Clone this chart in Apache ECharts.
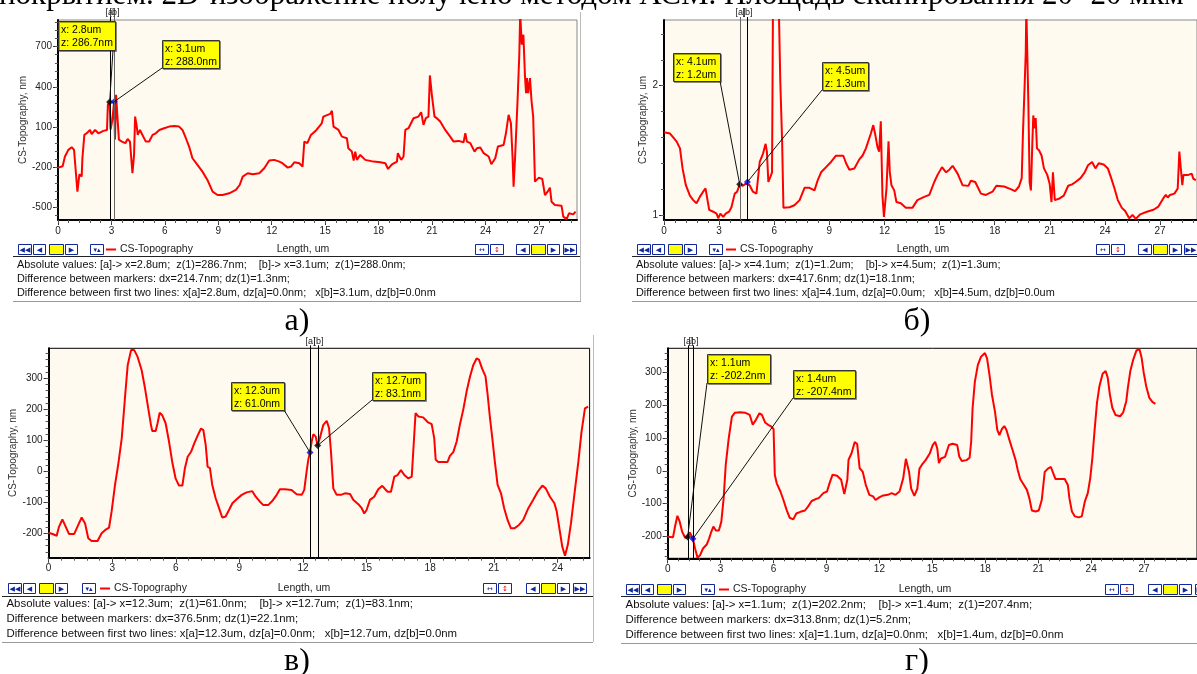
<!DOCTYPE html>
<html>
<head>
<meta charset="utf-8">
<script src="https://cdn.jsdelivr.net/npm/echarts@6/dist/echarts.min.js"></script>
<style>
  html, body { margin: 0; padding: 0; background: #fff; }
  #chart { width: 1197px; height: 674px; }
</style>
</head>
<body>
<div id="chart"></div>
<script>
// ---- profile a) : length (um) / height (nm)
const lenA = [0, 0.26, 0.39, 0.58, 0.77, 0.90, 0.97, 1.09, 1.20, 1.33, 1.37, 1.48, 1.61, 1.80, 1.89, 2.08, 2.27, 2.55, 2.75, 2.80, 2.90, 2.95, 3.05, 3.15, 3.20, 3.26, 3.33, 3.42, 3.59, 3.78, 3.91, 4.04, 4.18, 4.27, 4.33, 4.41, 4.48, 4.60, 4.71, 4.93, 5.12, 5.31, 5.49, 5.69, 5.96, 6.24, 6.52, 6.80, 6.99, 7.18, 7.36, 7.55, 7.83, 8.11, 8.39, 8.68, 8.96, 9.24, 9.61, 9.99, 10.2, 10.37, 10.65, 10.93, 11.3, 11.58, 11.86, 12.14, 12.43, 12.6, 12.9, 13.08, 13.27, 13.55, 13.73, 13.83, 14.0, 14.2, 14.5, 14.81, 14.9, 15.28, 15.38, 15.47, 15.75, 15.94, 16.22, 16.3, 16.5, 16.6, 16.69, 16.78, 16.97, 17.25, 17.72, 18.1, 18.38, 18.53, 18.75, 19.03, 19.08, 19.27, 19.4, 19.5, 19.68, 19.96, 20.24, 20.39, 20.52, 20.65, 20.8, 20.88, 20.99, 21.14, 21.27, 21.46, 21.74, 22.02, 22.21, 22.49, 22.77, 22.87, 22.96, 23.15, 23.39, 23.52, 23.71, 23.9, 24.18, 24.33, 24.55, 24.7, 25.02, 25.15, 25.3, 25.43, 25.52, 25.58, 25.67, 25.8, 25.9, 25.95, 26.04, 26.13, 26.22, 26.28, 26.33, 26.4, 26.5, 26.59, 26.68, 26.78, 27.0, 27.19, 27.34, 27.49, 27.62, 27.71, 27.9, 28.27, 28.37, 28.56, 28.69, 28.93, 29.06];
const topoA = [-205, -195, -122, -72, -52, -72, -185, -385, -255, -272, -135, 40, 52, 77, 45, 77, 52, 70, 77, 265, 286.7, 80, 150, 288.0, 5, 340, 190, 5, -10, -22, 10, -10, -247, -110, 177, 115, 40, 77, 65, -10, -10, 40, 52, 77, 90, 102, 107, 102, 77, 15, -47, -135, -185, -235, -297, -385, -410, -410, -397, -372, -335, -272, -247, -255, -247, -210, -152, -147, -160, -172, -205, -197, -165, -172, -197, -10, -22, 40, 75, 127, 177, 197, 220, 102, 77, 27, 15, -60, -85, -152, -85, -147, -110, -147, -160, -165, -172, -215, -180, -160, -97, -147, -122, 77, 90, 165, 177, 210, 115, 165, 177, 485, 340, 177, 165, 140, 77, 27, -10, -5, -15, 52, -10, -22, -85, -60, -55, -97, -122, -180, -135, -47, -35, 52, 190, 127, -122, -347, -110, 290, 640, 950, 715, 790, 477, 352, 465, 352, 465, 290, 177, -310, -280, -290, -410, -385, -355, -460, -485, -490, -572, -590, -547, -555, -535];
const markLenA = [2.90, 3.15];
const markTopoA = [286.7, 288.0];

// ---- profile б) : length (um) / height (um)
const lenB = [0, 0.33, 0.69, 0.87, 1.01, 1.19, 1.41, 1.59, 1.77, 1.95, 2.13, 2.26, 2.35, 2.46, 2.68, 2.86, 2.95, 3.07, 3.22, 3.36, 3.54, 3.67, 3.85, 3.98, 4.12, 4.3, 4.45, 4.54, 4.66, 4.84, 5.03, 5.21, 5.39, 5.53, 5.6, 5.68, 5.79, 5.88, 5.93, 6.25, 6.33, 6.43, 6.5, 6.83, 7.1, 7.38, 7.65, 7.92, 8.19, 8.37, 8.55, 8.82, 9.09, 9.36, 9.76, 9.91, 10.09, 10.36, 10.63, 10.81, 10.99, 11.14, 11.26, 11.39, 11.5, 11.62, 11.71, 11.8, 11.86, 11.89, 11.97, 12.04, 12.11, 12.22, 12.29, 12.38, 12.53, 12.65, 12.89, 13.16, 13.52, 13.79, 14.16, 14.44, 14.71, 14.89, 15.13, 15.35, 15.53, 15.71, 15.98, 16.25, 16.57, 16.7, 16.94, 17.25, 17.52, 17.88, 18.09, 18.51, 18.87, 19.11, 19.32, 19.47, 19.54, 19.63, 19.69, 19.72, 19.79, 19.83, 19.9, 19.97, 20.05, 20.1, 20.17, 20.23, 20.3, 20.41, 20.55, 20.68, 20.86, 20.99, 21.09, 21.17, 21.22, 21.27, 21.49, 21.76, 22.0, 22.21, 22.4, 22.67, 22.9, 23.08, 23.3, 23.48, 23.66, 23.93, 24.16, 24.34, 24.52, 24.7, 24.92, 25.1, 25.32, 25.5, 25.68, 25.92, 26.28, 26.64, 26.91, 27.18, 27.31, 27.42, 27.54, 27.78, 27.96, 28.05, 28.14, 28.21, 28.27, 28.36, 28.54, 28.72, 28.81, 28.95];
const topoB = [1.64, 1.63, 1.567, 1.515, 1.36, 1.23, 1.15, 1.115, 1.09, 1.14, 1.18, 1.205, 1.13, 1.04, 1.025, 1.01, 0.975, 1.01, 0.985, 1.01, 1.025, 1.06, 1.165, 1.18, 1.237, 1.226, 1.242, 1.255, 1.23, 1.18, 1.165, 1.41, 1.475, 1.55, 1.49, 1.255, 1.295, 1.33, 2.6, 2.6, 2.03, 1.567, 1.055, 1.06, 1.075, 1.115, 1.21, 1.21, 1.19, 1.27, 1.33, 1.37, 1.41, 1.458, 1.458, 1.4, 1.35, 1.36, 1.43, 1.46, 1.515, 1.58, 1.63, 1.695, 1.62, 1.525, 1.49, 1.725, 1.72, 1.15, 0.985, 1.0, 1.205, 1.57, 1.33, 1.23, 1.19, 1.1, 1.09, 1.055, 1.055, 1.115, 1.14, 1.155, 1.255, 1.31, 1.37, 1.33, 1.35, 1.38, 1.32, 1.23, 1.225, 1.265, 1.255, 1.165, 1.155, 1.18, 1.226, 1.22, 1.2, 1.185, 1.22, 1.285, 1.645, 2.005, 2.26, 2.6, 2.6, 1.875, 1.255, 1.19, 1.567, 1.77, 1.67, 1.75, 1.515, 1.5, 1.46, 1.36, 1.31, 1.242, 1.1, 1.33, 1.33, 1.115, 1.125, 1.15, 1.226, 1.237, 1.255, 1.285, 1.33, 1.385, 1.41, 1.36, 1.4, 1.39, 1.36, 1.285, 1.205, 1.115, 1.055, 1.03, 0.975, 1.0, 0.97, 1.005, 1.025, 1.04, 1.065, 1.13, 1.155, 1.135, 1.155, 1.165, 1.205, 1.49, 1.475, 1.23, 1.31, 1.295, 1.31, 1.32, 1.28, 1.27];
const markLenB = [4.12, 4.54];
const markTopoB = [1.237, 1.255];

// ---- profile в) : length (um) / height (nm)
const lenC = [0, 0.22, 0.38, 0.49, 0.65, 0.81, 0.96, 1.21, 1.4, 1.56, 1.72, 1.87, 2.03, 2.31, 2.5, 2.66, 2.85, 2.97, 3.13, 3.29, 3.45, 3.6, 3.73, 3.89, 4.04, 4.2, 4.39, 4.55, 4.7, 4.83, 4.89, 5.05, 5.14, 5.24, 5.36, 5.52, 5.68, 5.83, 5.99, 6.15, 6.31, 6.43, 6.56, 6.72, 6.87, 7.03, 7.19, 7.3, 7.41, 7.5, 7.61, 7.72, 7.88, 8.04, 8.19, 8.35, 8.51, 8.67, 8.87, 9.11, 9.34, 9.61, 9.77, 9.97, 10.13, 10.36, 10.55, 10.76, 10.91, 11.15, 11.46, 11.7, 11.94, 12.06, 12.17, 12.25, 12.33, 12.41, 12.49, 12.6, 12.69, 12.8, 12.96, 13.12, 13.23, 13.32, 13.43, 13.59, 13.79, 13.98, 14.22, 14.37, 14.61, 14.77, 14.89, 15.0, 15.16, 15.36, 15.55, 15.74, 15.87, 15.99, 16.15, 16.31, 16.46, 16.62, 16.78, 16.97, 17.13, 17.22, 17.31, 17.44, 17.67, 17.88, 18.07, 18.19, 18.26, 18.38, 18.62, 18.82, 18.93, 19.09, 19.25, 19.4, 19.56, 19.72, 19.88, 20.03, 20.19, 20.3, 20.45, 20.61, 20.71, 20.82, 20.93, 21.05, 21.18, 21.34, 21.49, 21.65, 21.81, 21.97, 22.19, 22.39, 22.63, 22.86, 23.07, 23.29, 23.45, 23.65, 23.86, 23.97, 24.12, 24.23, 24.36, 24.49, 24.64, 24.8, 24.99, 25.14, 25.3, 25.45];
const topoC = [-198, -203, -208, -179, -155, -179, -202, -202, -173, -149, -168, -216, -225, -225, -200, -190, -182, -131, -45, 25, 106, 235, 342, 391, 391, 369, 326, 267, 203, 149, 130, 130, 155, 189, 181, 155, 96, 31, -23, -46, -46, 10, 47, 63, 90, 115, 138, 133, 85, 15, 10, -44, -87, -119, -149, -146, -125, -103, -90, -76, -68, -64, -82, -98, -109, -109, -96, -76, -58, -58, -60, -74, -76, -60, -1, 37, 61.0, 96, 120, 112, 83.1, 108, 150, 163, 139, 64, -55, -76, -76, -71, -73, -92, -106, -119, -136, -125, -92, -82, -58, -47, -57, -66, -66, -17, -12, 4, -12, -23, -17, 85, 188, 177, 174, 159, 152, 107, 37, 30, 30, 30, 50, 62, 96, 150, 199, 258, 306, 342, 364, 360, 331, 306, 247, 172, 107, 31, -44, -71, -119, -157, -184, -184, -173, -157, -119, -92, -66, -46, -55, -82, -103, -130, -195, -243, -272, -238, -168, -76, 31, 128, 203, 209];
const markLenC = [12.33, 12.69];
const markTopoC = [61.0, 83.1];

// ---- profile г) : length (um) / height (nm)
const lenD = [0, 0.3, 0.43, 0.55, 0.68, 0.82, 0.99, 1.13, 1.25, 1.34, 1.43, 1.55, 1.69, 1.83, 2.0, 2.21, 2.35, 2.47, 2.59, 2.73, 2.9, 3.04, 3.17, 3.29, 3.46, 3.64, 3.81, 4.12, 4.38, 4.65, 4.82, 5.0, 5.2, 5.34, 5.52, 5.69, 5.86, 6.0, 6.07, 6.18, 6.39, 6.56, 6.74, 6.91, 7.12, 7.29, 7.52, 7.78, 7.95, 8.16, 8.39, 8.56, 8.82, 9.03, 9.17, 9.34, 9.6, 9.83, 10.01, 10.18, 10.25, 10.42, 10.6, 10.74, 10.88, 11.05, 11.23, 11.43, 11.64, 11.78, 11.99, 12.22, 12.48, 12.69, 12.91, 13.14, 13.35, 13.5, 13.68, 13.8, 13.98, 14.15, 14.27, 14.41, 14.62, 14.85, 15.02, 15.16, 15.28, 15.37, 15.49, 15.72, 15.94, 16.15, 16.41, 16.53, 16.67, 16.94, 17.11, 17.2, 17.28, 17.41, 17.58, 17.76, 17.98, 18.1, 18.24, 18.38, 18.55, 18.68, 18.8, 18.94, 19.08, 19.2, 19.37, 19.55, 19.72, 19.84, 19.98, 20.19, 20.36, 20.5, 20.64, 20.85, 21.03, 21.2, 21.37, 21.55, 21.72, 21.86, 21.98, 22.24, 22.5, 22.68, 22.77, 22.91, 23.08, 23.29, 23.47, 23.64, 23.81, 23.95, 24.07, 24.19, 24.33, 24.47, 24.65, 24.82, 24.94, 25.06, 25.2, 25.38, 25.64, 25.81, 25.99, 26.08, 26.22, 26.39, 26.57, 26.74, 26.86, 26.98, 27.12, 27.3, 27.47, 27.64];
const topoD = [-201, -203, -166, -137, -155, -186, -204, -202.2, -188, -191, -207.4, -237, -265, -258, -237, -225, -206, -186, -170, -182, -182, -155, -84, 19, 100, 166, 178, 179, 178, 171, 141, 156, 176, 171, 148, 141, 136, 128, -12, -38, -63, -89, -119, -143, -148, -130, -125, -121, -109, -92, -86, -83, -68, -63, -38, -12, -15, -27, -71, -27, 34, 54, 88, 82, 8, -2, -43, -73, -78, -89, -81, -75, -73, -68, -73, -63, -22, 37, -3, -54, -76, -54, 7, 19, 33, 53, 79, 89, 68, 24, 38, 43, 79, 83, 79, 43, 30, 33, 40, 89, 191, 273, 324, 349, 360, 344, 293, 232, 181, 125, 109, 128, 137, 125, 94, 63, 33, 3, -25, -43, -58, -84, -121, -124, -121, -89, -3, 7, 12, -8, -25, -25, -25, -43, -84, -124, -139, -142, -139, -94, -68, -22, 40, 121, 208, 259, 297, 305, 285, 234, 193, 171, 167, 178, 213, 254, 305, 341, 368, 372, 346, 300, 259, 223, 211, 205];
const markLenD = [1.13, 1.43];
const markTopoD = [-202.2, -207.4];

// ---- tick labels
const lengthTicks = [0, 3, 6, 9, 12, 15, 18, 21, 24, 27];
const topoTicksA = [-500, -200, 100, 400, 700];
const topoTicksB = [1, 2];
const topoTicksC = [-200, -100, 0, 100, 200, 300];
const topoTicksD = [-200, -100, 0, 100, 200, 300];

// ---- texts
const infoA = [
  'Absolute values: [a]-> x=2.8um;  z(1)=286.7nm;    [b]-> x=3.1um;  z(1)=288.0nm;',
  'Difference between markers: dx=214.7nm; dz(1)=1.3nm;',
  'Difference between first two lines: x[a]=2.8um, dz[a]=0.0nm;   x[b]=3.1um, dz[b]=0.0nm'
];
const infoB = [
  'Absolute values: [a]-> x=4.1um;  z(1)=1.2um;    [b]-> x=4.5um;  z(1)=1.3um;',
  'Difference between markers: dx=417.6nm; dz(1)=18.1nm;',
  'Difference between first two lines: x[a]=4.1um, dz[a]=0.0um;   x[b]=4.5um, dz[b]=0.0um'
];
const infoC = [
  'Absolute values: [a]-> x=12.3um;  z(1)=61.0nm;    [b]-> x=12.7um;  z(1)=83.1nm;',
  'Difference between markers: dx=376.5nm; dz(1)=22.1nm;',
  'Difference between first two lines: x[a]=12.3um, dz[a]=0.0nm;   x[b]=12.7um, dz[b]=0.0nm'
];
const infoD = [
  'Absolute values: [a]-> x=1.1um;  z(1)=202.2nm;    [b]-> x=1.4um;  z(1)=207.4nm;',
  'Difference between markers: dx=313.8nm; dz(1)=5.2nm;',
  'Difference between first two lines: x[a]=1.1um, dz[a]=0.0nm;   x[b]=1.4um, dz[b]=0.0nm'
];
const boxTextA = [['x: 2.8um', 'z: 286.7nm'], ['x: 3.1um', 'z: 288.0nm']];
const boxTextB = [['x: 4.1um', 'z: 1.2um'], ['x: 4.5um', 'z: 1.3um']];
const boxTextC = [['x: 12.3um', 'z: 61.0nm'], ['x: 12.7um', 'z: 83.1nm']];
const boxTextD = [['x: 1.1um', 'z: -202.2nm'], ['x: 1.4um', 'z: -207.4nm']];
const headText = 'покрытием. 2D-изображение получено методом АСМ. Площадь сканирования 20×20 мкм';

const UI = '"Liberation Sans", Arial, sans-serif';
const SERIF = '"Liberation Serif", "Times New Roman", serif';
const BLUE = '#10289a';

// layout of the four panels
const panels = [
  { len: lenA, topo: topoA, mLen: markLenA, mTopo: markTopoA, yTicks: topoTicksA, info: infoA, boxText: boxTextA,
    grid: { left: 58, top: 20, width: 519, height: 200 }, xMax: 29.14, yMin: -597, yMax: 900,
    yName: 'CS-Topography, nm', nameGap: 24, frame: '#888',
    row: { y: 244, nav: 18, icon: 90, leg: 106, lenX: 303, pair: 474.6, navR: 516 },
    sep: { x1: 13, x2: 581, y: 256 }, infoX: 17, infoY: [265, 279, 293], infoSize: 10.9,
    bottom: { x1: 13, x2: 581, y: 301 }, vline: { x: 580, y1: 12, y2: 301 },
    boxes: [{ x: 58, y: 21, w: 57, h: 29, ax: 113, ay: 50 }, { x: 162, y: 40, w: 57, h: 28, ax: 162, ay: 68 }],
    mkColor: ['#000', '#0000ff'], mlColor: ['#000', '#666'], caption: { t: 'а)', x: 297, y: 322 } },
  { len: lenB, topo: topoB, mLen: markLenB, mTopo: markTopoB, yTicks: topoTicksB, info: infoB, boxText: boxTextB,
    grid: { left: 664, top: 20, width: 535, height: 200 }, xMax: 29.01, yMin: 0.961, yMax: 2.508,
    yName: 'CS-Topography, um', nameGap: 11, frame: '#888',
    row: { y: 244, nav: 637, icon: 709, leg: 726, lenX: 923, pair: 1096, navR: 1137.7 },
    sep: { x1: 632, x2: 1197, y: 256 }, infoX: 636, infoY: [265, 279, 293], infoSize: 10.9,
    bottom: { x1: 632, x2: 1197, y: 301 }, vline: null,
    boxes: [{ x: 673, y: 53, w: 47, h: 28, ax: 720, ay: 81 }, { x: 822, y: 62, w: 46, h: 28, ax: 822, ay: 90 }],
    mkColor: ['#000', '#0000ff'], mlColor: ['#666', '#000'], caption: { t: 'б)', x: 917, y: 322 } },
  { len: lenC, topo: topoC, mLen: markLenC, mTopo: markTopoC, yTicks: topoTicksC, info: infoC, boxText: boxTextC,
    grid: { left: 48.6, top: 348.3, width: 541, height: 209.4 }, xMax: 25.52, yMin: -278.7, yMax: 396.8,
    yName: 'CS-Topography, nm', nameGap: 25.5, frame: '#000',
    row: { y: 583, nav: 7.7, icon: 82, leg: 100, lenX: 304, pair: 483, navR: 526 },
    sep: { x1: 2, x2: 593, y: 596 }, infoX: 6.5, infoY: [604.3, 619, 634], infoSize: 11.4,
    bottom: { x1: 2, x2: 593, y: 642 }, vline: { x: 593, y1: 335, y2: 642 },
    boxes: [{ x: 231, y: 382, w: 53, h: 28, ax: 284, ay: 410 }, { x: 372, y: 372, w: 53, h: 28, ax: 372, ay: 400 }],
    mkColor: ['#0000ff', '#000'], mlColor: ['#000', '#000'], caption: { t: 'в)', x: 297, y: 662 } },
  { len: lenD, topo: topoD, mLen: markLenD, mTopo: markTopoD, yTicks: topoTicksD, info: infoD, boxText: boxTextD,
    grid: { left: 667.7, top: 348.3, width: 574.5, height: 210 }, xMax: 30, yMin: -267, yMax: 374.6,
    yName: 'CS-Topography, nm', nameGap: 25.5, frame: '#000',
    row: { y: 584, nav: 626, icon: 701, leg: 719, lenX: 925, pair: 1105, navR: 1148 },
    sep: { x1: 621, x2: 1197, y: 596 }, infoX: 625.6, infoY: [605, 620, 635], infoSize: 11.4,
    bottom: { x1: 621, x2: 1197, y: 643 }, vline: null,
    boxes: [{ x: 707, y: 354, w: 63, h: 29, ax: 707, ay: 383 }, { x: 793, y: 370, w: 62, h: 28, ax: 793, ay: 398 }],
    mkColor: ['#000', '#0000ff'], mlColor: ['#000', '#000'], caption: { t: 'г)', x: 917, y: 662 } }
];

// minor tick positions between the labelled ones
function minorTicks(major, min, max) {
  const step = (major.length > 1 ? major[1] - major[0] : 1) / 5;
  const out = [];
  let v = major[0];
  while (v - step >= min) v -= step;
  for (; v <= max + 1e-9; v += step) out.push(+v.toFixed(4));
  return out;
}

const grids = [], xMajor = [], yMajor = [], xMinor = [], yMinor = [], lines = [], marks = [];
panels.forEach((p, i) => {
  grids.push(Object.assign({ show: true, backgroundColor: '#fffaef', borderColor: p.frame, borderWidth: 1 }, p.grid));
  const xt = lengthTicks.filter(v => v <= p.xMax);
  xMajor.push({
    type: 'value', gridIndex: i, min: 0, max: p.xMax, position: 'bottom',
    axisLine: { show: true, onZero: false, lineStyle: { color: '#000', width: 2 } },
    axisTick: { show: true, customValues: xt, length: 5, lineStyle: { color: '#333' } },
    axisLabel: { customValues: xt, margin: 6, fontSize: 10, color: '#222', fontFamily: UI },
    splitLine: { show: false }
  });
  xMinor.push({
    type: 'value', gridIndex: i, min: 0, max: p.xMax, position: 'bottom',
    axisLine: { show: false, onZero: false },
    axisTick: { show: true, customValues: minorTicks(xt, 0, p.xMax), length: 3, lineStyle: { color: '#555' } },
    axisLabel: { show: false }, splitLine: { show: false }
  });
  yMajor.push({
    type: 'value', gridIndex: i, min: p.yMin, max: p.yMax, position: 'left',
    name: p.yName, nameLocation: 'middle', nameGap: p.nameGap,
    nameTextStyle: { fontSize: 10, color: '#333', fontFamily: UI },
    axisLine: { show: true, onZero: false, lineStyle: { color: '#000', width: 2 } },
    axisTick: { show: true, customValues: p.yTicks, length: 5, lineStyle: { color: '#333' } },
    axisLabel: { customValues: p.yTicks, margin: 6, fontSize: 10, color: '#222', fontFamily: UI },
    splitLine: { show: false }
  });
  yMinor.push({
    type: 'value', gridIndex: i, min: p.yMin, max: p.yMax, position: 'left',
    axisLine: { show: false, onZero: false },
    axisTick: { show: true, customValues: minorTicks(p.yTicks, p.yMin, p.yMax), length: 3, lineStyle: { color: '#555' } },
    axisLabel: { show: false }, splitLine: { show: false }
  });
  lines.push({
    type: 'line', xAxisIndex: i, yAxisIndex: i, showSymbol: false, symbol: 'none',
    data: p.len.map((x, k) => [x, p.topo[k]]),
    lineStyle: { color: '#ff0000', width: 2 }, z: 3
  });
  marks.push({
    type: 'scatter', xAxisIndex: i, yAxisIndex: i, symbol: 'diamond', symbolSize: 7, z: 6,
    data: p.mLen.map((x, k) => ({ value: [x, p.mTopo[k]], itemStyle: { color: p.mkColor[k] } }))
  });
});

const chart = echarts.init(document.getElementById('chart'));
chart.setOption({
  backgroundColor: '#fff',
  animation: false,
  grid: grids,
  xAxis: xMajor.concat(xMinor),
  yAxis: yMajor.concat(yMinor),
  series: lines.concat(marks)
});

// ---- decorations (texts, buttons, marker boxes)
const g = [];
function text(x, y, s, font, o) {
  g.push({ type: 'text', x: x, y: y, z: 100, silent: true,
    style: Object.assign({ text: s, font: font, fill: '#000', align: 'left', verticalAlign: 'middle' }, o || {}) });
}
function seg(x1, y1, x2, y2, color, w) {
  g.push({ type: 'line', z: 90, silent: true, shape: { x1: x1, y1: y1, x2: x2, y2: y2 },
    style: { stroke: color, lineWidth: w || 1 } });
}
function cell(x, y, w, glyph, fill, color) {
  g.push({ type: 'rect', z: 100, silent: true, shape: { x: Math.round(x) + 0.5, y: y + 0.5, width: w, height: 10 },
    style: { fill: fill || '#fff', stroke: BLUE, lineWidth: 1 } });
  if (glyph) text(Math.round(x) + 0.5 + w / 2, y + 5.8, glyph, '7px "DejaVu Sans"', { fill: color || BLUE, align: 'center' });
}

text(-1, 11, headText, '31px ' + SERIF, { verticalAlign: 'bottom' });

panels.forEach((p, i) => {
  const r = p.row;
  // navigation buttons and legend
  cell(r.nav, r.y, 13, '◀◀'); cell(r.nav + 15.3, r.y, 12, '◀'); cell(r.nav + 31, r.y, 14, null, '#ffff00'); cell(r.nav + 47, r.y, 12, '▶');
  cell(r.icon, r.y, 13, '▾▴');
  seg(r.leg, r.y + 5.5, r.leg + 10, r.y + 5.5, '#ff0000', 2);
  text(r.leg + 14, r.y + 5.5, 'CS-Topography', '10.5px ' + UI, { fill: '#222' });
  text(r.lenX, r.y + 5.5, 'Length, um', '10.5px ' + UI, { fill: '#222', align: 'center' });
  cell(r.pair, r.y, 13, '↔'); cell(r.pair + 15.4, r.y, 13, '↕', null, '#e00000');
  cell(r.navR, r.y, 13, '◀'); cell(r.navR + 15.2, r.y, 14, null, '#ffff00'); cell(r.navR + 31.3, r.y, 12, '▶'); cell(r.navR + 46.6, r.y, 13, '▶▶');
  // info block
  seg(p.sep.x1, p.sep.y + 0.5, p.sep.x2, p.sep.y + 0.5, '#222', 1);
  seg(p.bottom.x1, p.bottom.y + 0.5, p.bottom.x2, p.bottom.y + 0.5, '#999', 1);
  if (p.vline) seg(p.vline.x + 0.5, p.vline.y1, p.vline.x + 0.5, p.vline.y2, '#bbb', 1);
  p.info.forEach((s, k) => text(p.infoX, p.infoY[k], s, p.infoSize + 'px ' + UI, { fill: '#111' }));
  text(p.caption.x, p.caption.y, p.caption.t, '32px ' + SERIF, { align: 'center' });

  // markers: vertical lines, [a]/[b] labels, yellow boxes and leaders
  p.mLen.forEach((mx, k) => {
    const pt = chart.convertToPixel({ seriesIndex: i }, [mx, p.mTopo[k]]);
    const lx = Math.round(pt[0]) + 0.5;
    seg(lx, p.grid.top - 3, lx, p.grid.top + p.grid.height, p.mlColor[k], 1);
    text(lx, p.grid.top - 7, k === 0 ? '[a]' : '[b]', '9px ' + UI, { align: 'center', fill: '#222' });
    const b = p.boxes[k];
    seg(b.ax, b.ay, pt[0], pt[1], '#111', 1);
    g.push({ type: 'rect', z: 110, silent: true, shape: { x: b.x + 0.5, y: b.y + 0.5, width: b.w, height: b.h },
      style: { fill: '#ffff00', stroke: '#333', lineWidth: 1, shadowColor: 'rgba(0,0,0,0.35)', shadowOffsetX: 1, shadowOffsetY: 1 } });
    g.push({ type: 'text', z: 111, silent: true, x: b.x + 3, y: b.y + 3,
      style: { text: p.boxText[k].join('\n'), font: '10.5px ' + UI, fill: '#000', lineHeight: 12.5, verticalAlign: 'top' } });
  });
});

chart.setOption({ graphic: { elements: g } });
</script>
</body>
</html>
